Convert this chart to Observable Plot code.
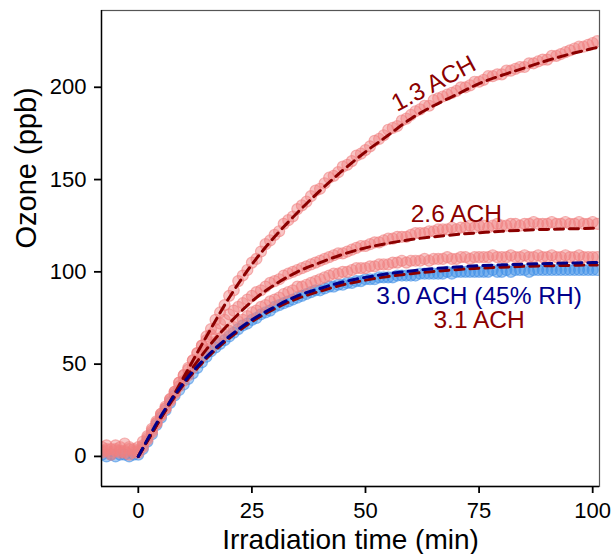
<!DOCTYPE html>
<html><head><meta charset="utf-8">
<script src="https://cdn.jsdelivr.net/npm/d3@7"></script>
<script src="https://cdn.jsdelivr.net/npm/@observablehq/plot@0.6"></script>
<style>body{margin:0;background:#fff;}</style>
</head><body><div id="chart"></div>
<script>
// Sampling instants (min)
const minutes = [-8,-7,-6,-5,-4,-3,-2,-1,0,1,2,3,4,5,6,7,8,9,10,11,12,13,14,15,16,17,18,19,20,21,22,23,24,25,26,27,28,29,30,31,32,33,34,35,36,37,38,39,40,41,42,43,44,45,46,47,48,49,50,51,52,53,54,55,56,57,58,59,60,61,62,63,64,65,66,67,68,69,70,71,72,73,74,75,76,77,78,79,80,81,82,83,84,85,86,87,88,89,90,91,92,93,94,95,96,97,98,99,100,101];

// Measured ozone (ppb)
const ozone_13 = [5,6,4,6,5,7,5,4,
  5,8,11,15,18,23,26,31,35,40,
  44,47,52,56,60,65,69,74,78,82,
  87,90,95,98,101,105,107,111,115,117,
  120,122,126,128,130,134,136,138,141,144,
  145,148,151,152,154,157,158,160,163,164,
  166,168,171,172,174,177,178,179,182,183,
  185,187,188,190,190,193,194,195,196,197,
  198,200,200,201,203,203,204,206,206,207,
  207,209,209,210,211,211,213,213,214,215,
  215,217,217,218,219,220,221,222,222,223,
  224,225];
const ozone_26 = [3,4,2,4,3,2,4,3,
  3,6,10,14,19,23,27,31,35,40,
  44,48,52,56,60,63,66,69,72,74,
  77,79,81,83,85,87,89,90,92,94,
  95,96,98,99,100,101,102,103,104,105,
  106,107,108,109,110,110,111,112,113,114,
  114,115,116,116,117,118,118,119,119,119,
  120,121,121,121,122,122,123,123,123,124,
  123,124,124,125,124,125,125,124,125,126,
  125,125,126,126,125,126,126,127,126,126,
  126,127,126,126,127,126,126,127,126,126,
  127,126];
const ozone_31 = [2,3,1,3,2,3,1,2,
  2,5,9,13,18,22,26,30,34,38,
  41,44,48,51,54,57,59,62,64,66,
  68,70,73,74,76,78,79,81,82,84,
  85,86,88,89,90,92,92,93,94,95,
  96,97,98,99,99,100,100,101,102,102,
  102,103,103,104,104,104,105,105,106,105,
  106,106,106,107,106,107,107,107,108,107,
  107,108,108,107,108,108,108,108,109,108,
  108,108,109,108,108,109,108,108,109,108,
  108,109,108,108,109,108,108,109,108,108,
  108,108];
const ozone_30rh = [1,0,1,0,1,1,0,1,
  1,4,8,12,17,21,25,29,33,36,
  39,42,45,48,51,54,57,59,61,63,
  65,67,69,71,72,74,75,77,78,79,
  81,82,83,84,85,86,87,88,89,90,
  90,91,92,92,93,93,94,94,95,95,
  96,96,96,97,97,97,97,98,98,98,
  98,98,99,99,99,99,99,99,100,99,
  100,100,100,100,100,100,100,100,101,100,
  100,101,100,101,101,101,100,101,101,101,
  101,101,101,101,101,101,101,101,101,101,
  101,101];

// Fitted curves (ppb)
const fitMinutes = [0,5,10,15,20,25,30,35,40,45,50,55,60,65,70,75,80,85,90,95,100,101];
const fit_13 = [0,21,43,65,86,104,119,132,144,155,165,174,183,190,196,202,206.5,210.5,214.5,218,221,221.6];
const fit_26 = [0,21,41,58,72,84,93,100,105,109.5,113,115.5,117.5,119,120.2,121.2,122,122.6,123,123.3,123.6,123.7];
const fit_31 = [0,21,39,53,64,73,80,85.5,89.5,93,95.5,97.5,99,100.2,101.2,102,102.5,103,103.3,103.5,103.7,103.7];
const fit_30rh = [0,22,40,54,65,74,81,87,91,94.5,97,99,100.5,101.7,102.6,103.3,103.8,104.2,104.5,104.8,105,105];

// Annotations
const labelText = ["1.3 ACH", "2.6 ACH", "3.0 ACH (45% RH)", "3.1 ACH"];
const labelT = [65, 70, 75, 75];
const labelV = [202, 131, 86.7, 73.7];
const labelColor = ["#8B0000", "#8B0000", "#00008B", "#8B0000"];
const labelAngle = [-28, 0, 0, 0];

const xTicks = [0, 25, 50, 75, 100];
const yTicks = [0, 50, 100, 150, 200];

const rows = (vals, ts, name) => vals.map((v, i) => ({t: ts[i], v, name}));
const bluePts = rows(ozone_30rh, minutes, "3.0 ACH (45% RH)");
const redPts = [].concat(rows(ozone_13, minutes, "1.3 ACH"), rows(ozone_26, minutes, "2.6 ACH"), rows(ozone_31, minutes, "3.1 ACH"));
const redFit = [].concat(rows(fit_13, fitMinutes, "1.3 ACH"), rows(fit_26, fitMinutes, "2.6 ACH"), rows(fit_31, fitMinutes, "3.1 ACH"));
const blueFit = rows(fit_30rh, fitMinutes, "3.0 ACH (45% RH)");
const labels = labelText.map((s, i) => ({s, t: labelT[i], v: labelV[i], c: labelColor[i], a: labelAngle[i]}));

const X0 = -8.1, X1 = 101.5, Y0 = -16.3, Y1 = 241.6;

const plot = Plot.plot({
  width: 613, height: 554,
  marginLeft: 101, marginRight: 14, marginTop: 10, marginBottom: 68,
  style: {fontFamily: "'Liberation Sans', Arial, sans-serif", background: "#fff", color: "#000"},
  x: {domain: [X0, X1]},
  y: {domain: [Y0, Y1]},
  marks: [
    Plot.dot(bluePts, {x: "t", y: "v", r: 5.5, fill: "#3C8DE6", fillOpacity: 0.45, stroke: "#3C8DE6", strokeOpacity: 0.55, strokeWidth: 1.2, clip: true}),
    Plot.dot(redPts, {x: "t", y: "v", r: 5.5, fill: "#F08080", fillOpacity: 0.45, stroke: "#F08080", strokeOpacity: 0.6, strokeWidth: 1.2, clip: true}),
    Plot.line(redFit, {x: "t", y: "v", z: "name", stroke: "#8B0000", strokeWidth: 3, strokeDasharray: "9,6", curve: "monotone-x", clip: true}),
    Plot.line(blueFit, {x: "t", y: "v", z: "name", stroke: "#00008B", strokeWidth: 3, strokeDasharray: "9,6", curve: "monotone-x", clip: true}),
    Plot.frame({stroke: "#555", strokeWidth: 1.2}),
    Plot.ruleX([X0], {stroke: "#000", strokeWidth: 1.4}),
    Plot.ruleY([Y0], {stroke: "#000", strokeWidth: 1.4}),
    Plot.axisX({ticks: xTicks, tickSize: 7, tickPadding: 9, fontSize: 22, label: null, strokeWidth: 1.8}),
    Plot.axisY({ticks: yTicks, tickSize: 7, tickPadding: 8, fontSize: 22, label: null, strokeWidth: 1.8}),
    Plot.text(labels, {x: "t", y: "v", text: "s", fill: "c", rotate: "a", fontSize: 24.5}),
    Plot.text(["Irradiation time (min)"], {text: d => d, frameAnchor: "bottom", dy: 62, fontSize: 28, lineAnchor: "bottom", fill: "#000"}),
    Plot.text(["Ozone (ppb)"], {text: d => d, frameAnchor: "left", dx: -66, rotate: -90, fontSize: 29, lineAnchor: "bottom", fill: "#000"})
  ]
});
document.getElementById("chart").appendChild(plot);
</script>
</body></html>
